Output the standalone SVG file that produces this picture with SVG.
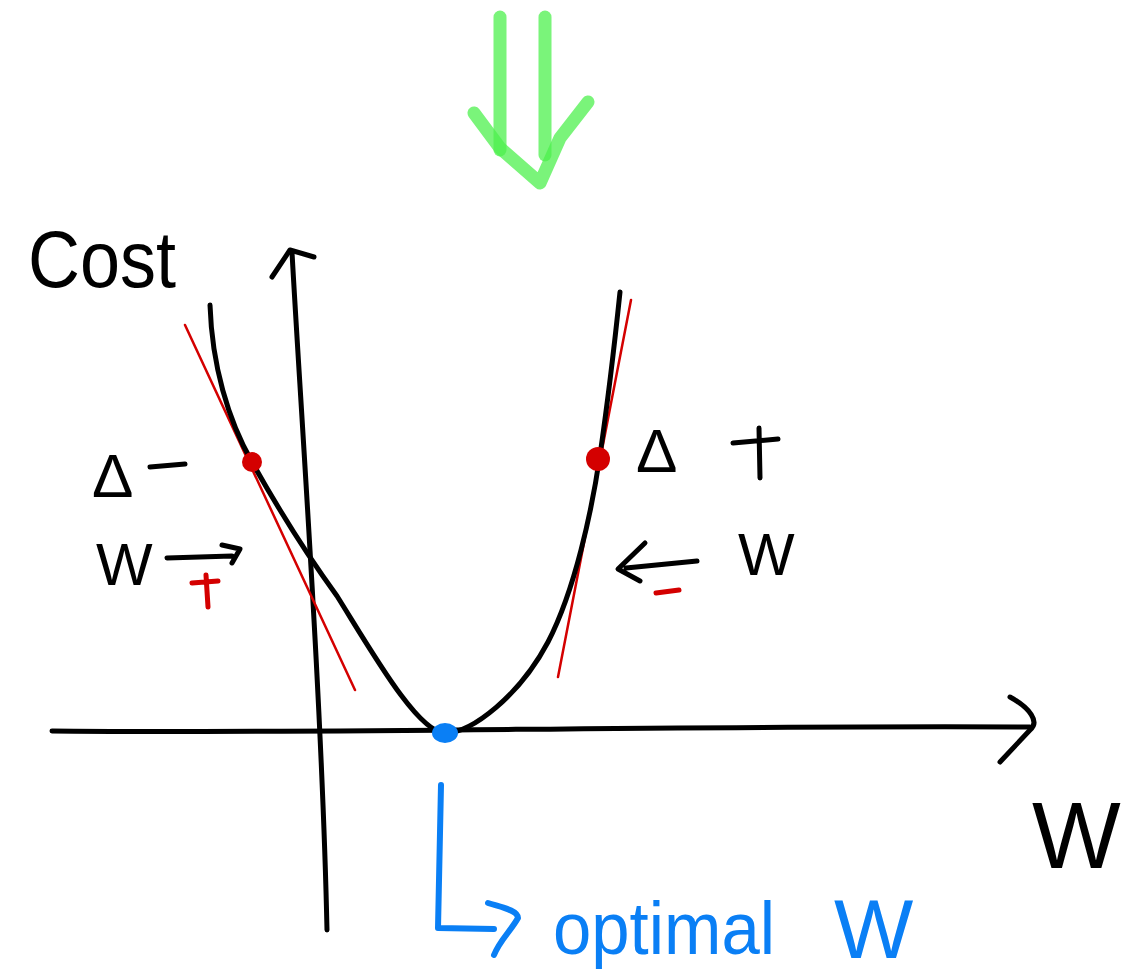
<svg xmlns="http://www.w3.org/2000/svg" width="1127" height="975" viewBox="0 0 1127 975">
<style>
.ink{fill:none;stroke:#000;stroke-width:5;stroke-linecap:round;stroke-linejoin:round}
.red{fill:none;stroke:#d40000;stroke-width:2.5;stroke-linecap:round}
.redthick{fill:none;stroke:#d40000;stroke-width:5;stroke-linecap:round}
.blue{fill:none;stroke:#0a7ff5;stroke-width:6;stroke-linecap:round;stroke-linejoin:round}
.green{fill:none;stroke:#4ef04e;stroke-width:13;stroke-linecap:round;stroke-linejoin:round;stroke-opacity:0.75}
.t{font-family:"Liberation Sans",Arial,sans-serif;fill:#000}
.tb{font-family:"Liberation Sans",Arial,sans-serif;fill:#0a7ff5}
</style>
<rect width="1127" height="975" fill="#fff"/>
<g id="green-arrow">
<path class="green" d="M500,17 L500,150"/>
<path class="green" d="M545,17 L545,155"/>
<path class="green" d="M474,113 L500,148 L540,183 L560,138 L588,102"/>
</g>
<g id="axes">
<path class="ink" d="M327,930 C322,700 300,400 292,252"/>
<path class="ink" d="M272,277 L290,250 L314,257"/>
<path class="ink" d="M52,731 C300,734 700,725 1030,727"/>
<path class="ink" d="M1010,697 C1030,708 1040,722 1030,730 L1000,762"/>
</g>
<g id="tangents">
<path class="red" d="M185,325 L355,690"/>
<path class="red" d="M631,300 L558,677"/>
</g>
<g id="curve">
<path class="ink" d="M210,305 C212,365 228,420 252,462 C280,512 305,552 337,596 C372,652 418,733 445,733 C472,733 520,695 548,642 C575,590 592,510 600,455 C608,400 615,340 620,292"/>
</g>
<g id="points">
<circle cx="252" cy="462" r="10" fill="#d40000"/>
<circle cx="598" cy="459" r="12" fill="#d40000"/>
<ellipse cx="445" cy="733" rx="13" ry="10" fill="#0a7ff5"/>
</g>
<g id="label-cost"><text class="t" x="28" y="287" font-size="80" textLength="148" lengthAdjust="spacingAndGlyphs">Cost</text></g>
<g id="label-left">
<text class="t" x="92" y="497" font-size="62">Δ</text>
<path class="ink" d="M150,467 L185,464"/>
<text class="t" x="96" y="585" font-size="60">W</text>
<path class="ink" d="M167,558 L232,556 M222,545 L240,549 L232,563"/>
<path class="redthick" d="M192,583 L218,581 M206,575 L208,607"/>
</g>
<g id="label-right">
<text class="t" x="636" y="472" font-size="62">Δ</text>
<path class="ink" d="M733,443 L778,439 M759,428 L760,478"/>
<text class="t" x="738" y="575" font-size="60">W</text>
<path class="ink" d="M697,561 L626,568 M645,543 L618,569 L640,581"/>
<path class="redthick" stroke-width="6" d="M656,593 L679,590"/>
</g>
<g id="optimal">
<path class="blue" d="M441,785 L438,928 L494,929"/>
<path class="blue" d="M488,903 C500,907 518,910 518,918 C510,932 500,940 494,955"/>
<text class="tb" x="553" y="954" font-size="74" textLength="222" lengthAdjust="spacingAndGlyphs">optimal</text>
<text class="tb" x="834" y="958" font-size="84">W</text>
</g>
<g id="label-w"><text class="t" x="1032" y="868" font-size="94">W</text></g>
</svg>
